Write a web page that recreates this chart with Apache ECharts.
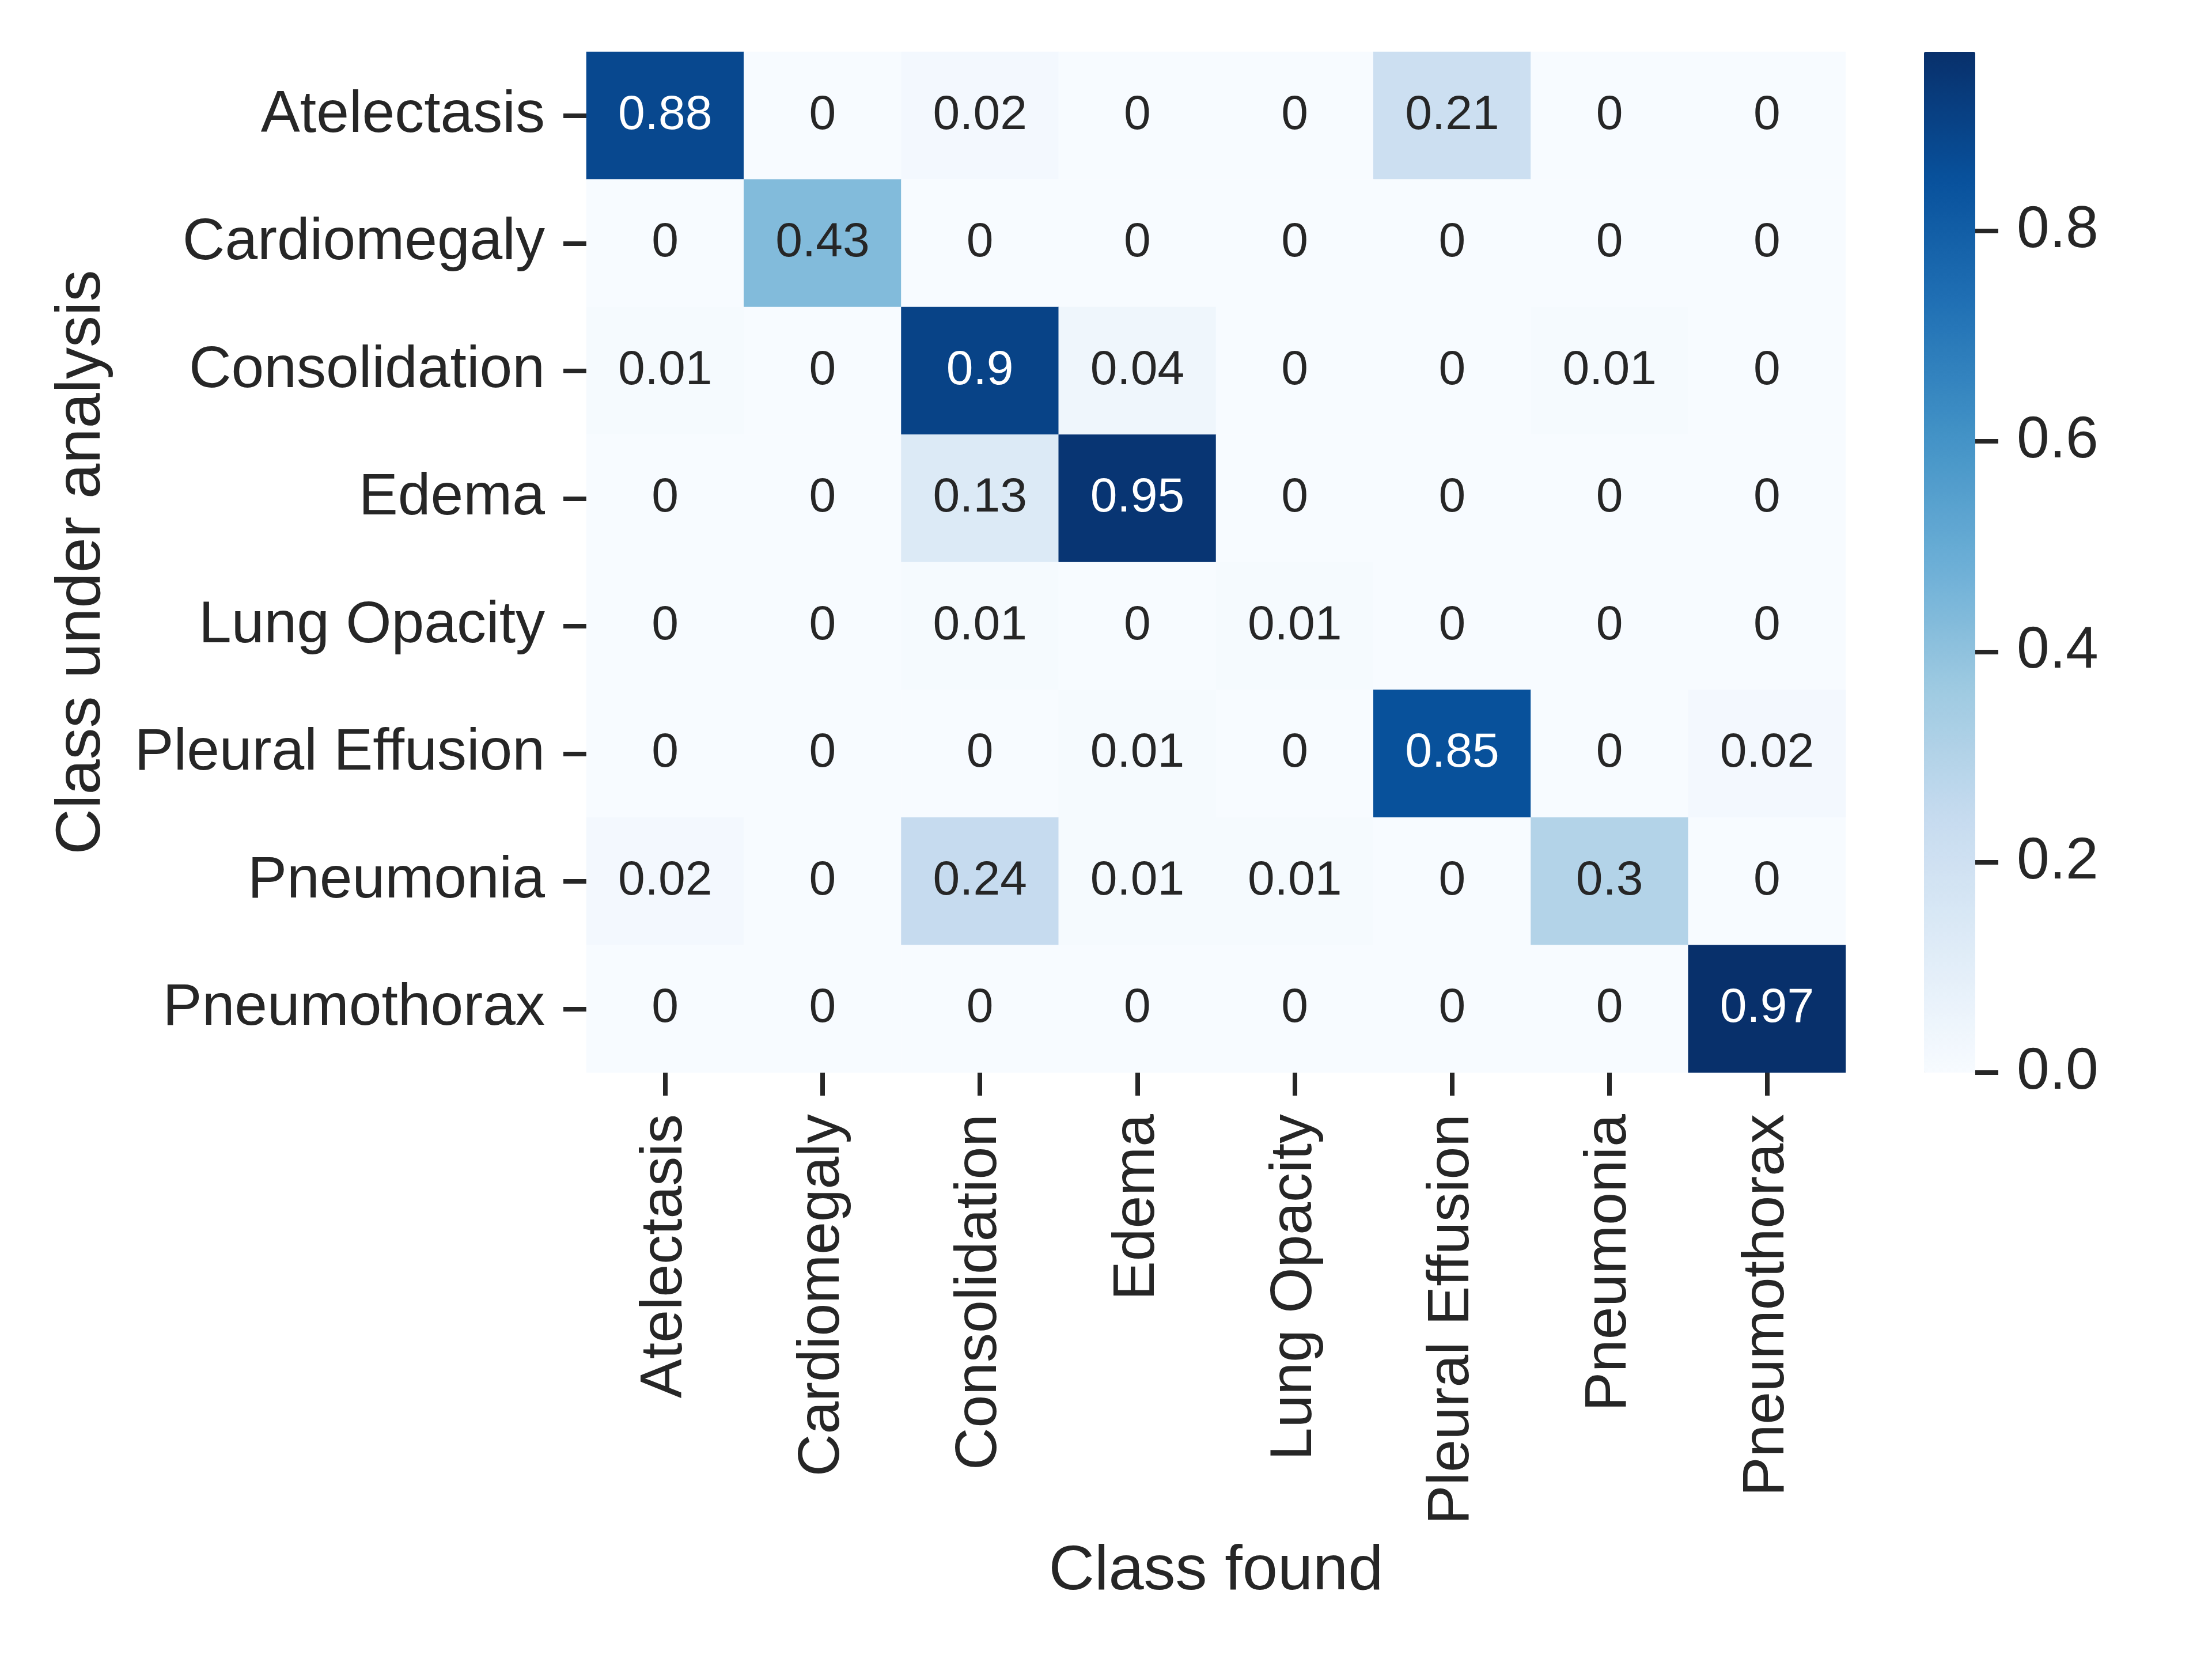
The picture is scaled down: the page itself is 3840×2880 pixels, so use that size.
<!DOCTYPE html>
<html>
<head>
<meta charset="utf-8">
<script src="https://cdn.jsdelivr.net/npm/echarts@6/dist/echarts.min.js"></script>
<style>
html,body{margin:0;padding:0;background:#fff;}
#chart{width:3840px;height:2880px;}
</style>
</head>
<body>
<div id="chart"></div>
<script>
const foundClasses = ['Atelectasis','Cardiomegaly','Consolidation','Edema','Lung Opacity','Pleural Effusion','Pneumonia','Pneumothorax'];
const analysedClasses = ['Atelectasis','Cardiomegaly','Consolidation','Edema','Lung Opacity','Pleural Effusion','Pneumonia','Pneumothorax'];
const rowAtelectasis     = [0.88, 0, 0.02, 0, 0, 0.21, 0, 0];
const rowCardiomegaly    = [0, 0.43, 0, 0, 0, 0, 0, 0];
const rowConsolidation   = [0.01, 0, 0.9, 0.04, 0, 0, 0.01, 0];
const rowEdema           = [0, 0, 0.13, 0.95, 0, 0, 0, 0];
const rowLungOpacity     = [0, 0, 0.01, 0, 0.01, 0, 0, 0];
const rowPleuralEffusion = [0, 0, 0, 0.01, 0, 0.85, 0, 0.02];
const rowPneumonia       = [0.02, 0, 0.24, 0.01, 0.01, 0, 0.3, 0];
const rowPneumothorax    = [0, 0, 0, 0, 0, 0, 0, 0.97];
const colorbarTicks = [0, 0.2, 0.4, 0.6, 0.8];
const colorMin = 0, colorMax = 0.97;

const rows = [rowAtelectasis,rowCardiomegaly,rowConsolidation,rowEdema,rowLungOpacity,rowPleuralEffusion,rowPneumonia,rowPneumothorax];
const data = [];
rows.forEach((r, i) => r.forEach((v, j) => {
  data.push({value: [j, i, v], label: {color: v > 0.6 ? '#ffffff' : '#262626'}});
}));

const dark = '#262626';
const font = '"Liberation Sans", Arial, sans-serif';
const GL = 1018, GT = 90, GW = 2186, GH = 1772;

const chart = echarts.init(document.getElementById('chart'), null, {renderer: 'canvas'});
chart.setOption({
  backgroundColor: '#ffffff',
  animation: false,
  textStyle: {fontFamily: font},
  grid: [
    {left: GL, top: GT, width: GW, height: GH, containLabel: false},
    {left: 3340, top: GT, width: 89, height: GH, containLabel: false}
  ],
  xAxis: [
    {
      type: 'category', data: foundClasses, gridIndex: 0, position: 'bottom',
      name: 'Class found', nameLocation: 'middle', nameGap: 812,
      nameTextStyle: {fontSize: 110, color: dark, fontFamily: font},
      axisLine: {show: false},
      axisTick: {show: true, alignWithLabel: true, length: 40, lineStyle: {width: 8, color: dark}},
      axisLabel: {rotate: 90, margin: 72, fontSize: 102, color: dark, interval: 0, fontFamily: font},
      splitLine: {show: false}
    },
    {type: 'category', data: [''], gridIndex: 1, show: false}
  ],
  yAxis: [
    {
      type: 'category', data: analysedClasses, gridIndex: 0, inverse: true,
      name: 'Class under analysis', nameLocation: 'middle', nameGap: 820,
      nameTextStyle: {fontSize: 110, color: dark, fontFamily: font},
      axisLine: {show: false},
      axisTick: {show: true, alignWithLabel: true, length: 40, lineStyle: {width: 8, color: dark}},
      axisLabel: {margin: 72, fontSize: 102, color: dark, interval: 0, fontFamily: font},
      splitLine: {show: false}
    },
    {
      type: 'value', gridIndex: 1, position: 'right', min: colorMin, max: colorMax, z: 10,
      axisLine: {show: false, onZero: false},
      axisTick: {show: true, inside: false, length: 40, customValues: colorbarTicks, lineStyle: {width: 8, color: dark}},
      axisLabel: {customValues: colorbarTicks, margin: 72, fontSize: 102, color: dark, fontFamily: font,
                  formatter: v => Number(v).toFixed(1)},
      splitLine: {show: false}
    }
  ],
  visualMap: {
    type: 'continuous', min: colorMin, max: colorMax, seriesIndex: 0,
    calculable: false, orient: 'vertical', left: 3340, top: GT,
    itemWidth: 89, itemHeight: GH, padding: 0, text: null, showLabel: false,
    hoverLink: false, z: 1,
    inRange: {color: ['#f7fbff','#deebf7','#c6dbef','#9ecae1','#6baed6','#4292c6','#2171b5','#08519c','#08306b']}
  },
  series: [{
    type: 'heatmap', xAxisIndex: 0, yAxisIndex: 0, data: data,
    label: {show: true, fontSize: 84, fontFamily: font, formatter: p => String(p.value[2])},
    itemStyle: {borderWidth: 0},
    emphasis: {disabled: true}
  }]
});
</script>
</body>
</html>
